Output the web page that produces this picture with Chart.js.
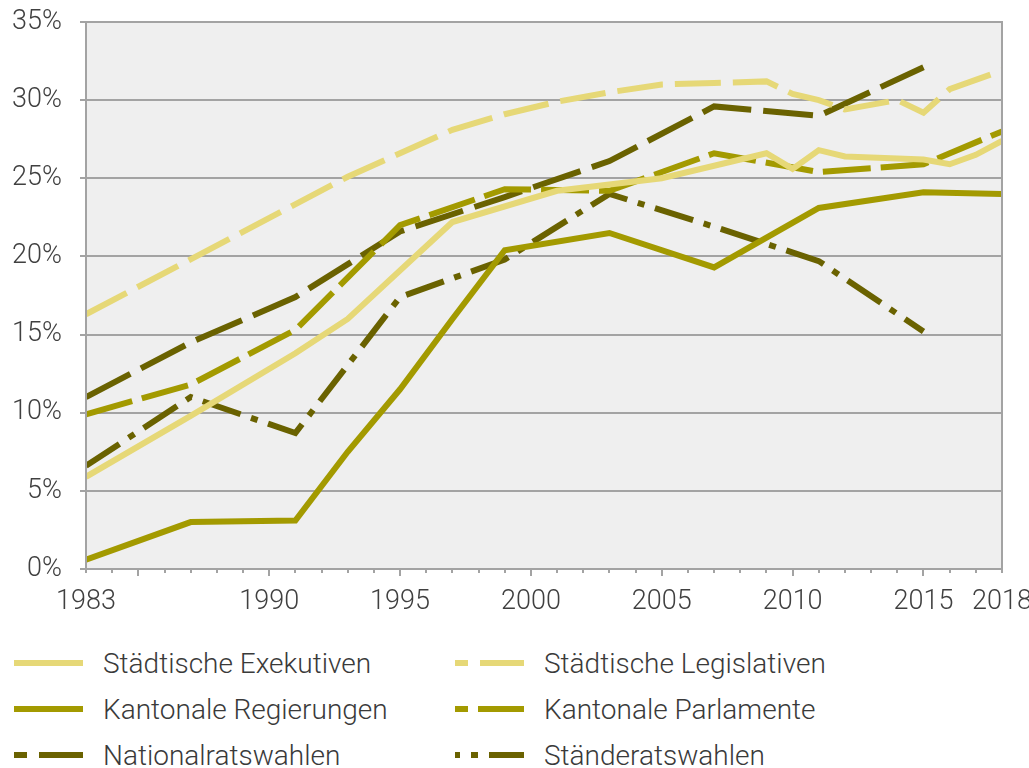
<!DOCTYPE html>
<html>
<head>
<meta charset="utf-8">
<script src="https://cdn.jsdelivr.net/npm/chart.js@4"></script>
<style>
  body { margin: 0; background: #fff; font-family: Roboto, sans-serif; font-weight: 300; }
  #wrap { position: relative; width: 1029px; height: 768px; }
  #legend { position: absolute; left: 14px; top: 640px; display: grid; grid-template-columns: 441px auto; grid-auto-rows: 46px; }
  .item { display: flex; align-items: center; font-size: 28px; color: #3a3a3a; }
  .item svg { margin-right: 20px; }
</style>
</head>
<body>
<div id="wrap">
  <canvas id="c" width="1029" height="625"></canvas>
  <div id="legend"></div>
</div>
<script>
// Werte in Prozent
const exekYears = [1983, 1987, 1991, 1993, 1997, 2001, 2005, 2009, 2010, 2011, 2012, 2015, 2016, 2017, 2018]
const exekVals = [5.9, 9.8, 13.8, 16.0, 22.2, 24.2, 25.0, 26.6, 25.6, 26.8, 26.4, 26.2, 25.9, 26.5, 27.4]

const legYears = [1983, 1993, 1995, 1997, 1999, 2001, 2003, 2005, 2007, 2009, 2010, 2011, 2012, 2014, 2015, 2016, 2018]
const legVals = [16.3, 25.1, 26.6, 28.1, 29.1, 29.9, 30.5, 31.0, 31.1, 31.2, 30.4, 30.0, 29.4, 30.0, 29.2, 30.7, 31.9]

const regYears = [1983, 1987, 1991, 1993, 1995, 1997, 1999, 2003, 2007, 2011, 2015, 2018]
const regVals = [0.6, 3.0, 3.1, 7.5, 11.5, 16.0, 20.4, 21.5, 19.3, 23.1, 24.1, 24.0]

const parlYears = [1983, 1987, 1991, 1995, 1999, 2003, 2007, 2011, 2015, 2018]
const parlVals = [9.9, 11.8, 15.3, 22.0, 24.3, 24.2, 26.6, 25.4, 25.9, 28.0]

const natYears = [1983, 1987, 1991, 1995, 1999, 2003, 2007, 2011, 2015]
const natVals = [11.0, 14.5, 17.4, 21.6, 23.8, 26.1, 29.6, 29.0, 32.1]

const staYears = [1983, 1987, 1991, 1995, 1999, 2003, 2007, 2011, 2015]
const staVals = [6.6, 11.0, 8.7, 17.4, 19.8, 24.0, 21.9, 19.7, 15.2]

const xLabelYears = [1983, 1990, 1995, 2000, 2005, 2010, 2015, 2018]
const yTicks = [0, 5, 10, 15, 20, 25, 30, 35]

const hell = "#e6d877"
const mittel = "#a39a00"
const dunkel = "#6a6200"

function pts(years, vals) {
    return years.map((y, i) => ({x: y, y: vals[i]}))
}

// Reihenfolge wie in der Legende (zeilenweise)
const datasets = [
    {label: "Städtische Exekutiven", data: pts(exekYears, exekVals), borderColor: hell, borderWidth: 6, borderDash: []},
    {label: "Städtische Legislativen", data: pts(legYears, legVals), borderColor: hell, borderWidth: 6, borderDash: [46, 12], dashOff: 33},
    {label: "Kantonale Regierungen", data: pts(regYears, regVals), borderColor: mittel, borderWidth: 6, borderDash: []},
    {label: "Kantonale Parlamente", data: pts(parlYears, parlVals), borderColor: mittel, borderWidth: 6, borderDash: [48, 10], dashOff: 35},
    {label: "Nationalratswahlen", data: pts(natYears, natVals), borderColor: dunkel, borderWidth: 6, borderDash: [50, 12], dashOff: 37},
    {label: "Ständeratswahlen", data: pts(staYears, staVals), borderColor: dunkel, borderWidth: 6, borderDash: [40, 11, 7, 11], dashOff: 35}
]
datasets.forEach(d => {
    d.pointRadius = 0
    d.fill = false
    d.tension = 0
    d.borderCapStyle = "butt"
    d.borderJoinStyle = "miter"
})

// grauer Hintergrund, Rahmen und Jahresstriche an der x-Achse
const plotDeko = {
    id: "plotDeko",
    beforeDraw(chart) {
        const {ctx, chartArea: a} = chart
        ctx.save()
        ctx.fillStyle = "#efefef"
        ctx.fillRect(a.left, a.top, a.right - a.left, a.bottom - a.top)
        ctx.restore()
    },
    afterDraw(chart) {
        const {ctx, chartArea: a, scales} = chart
        ctx.save()
        ctx.strokeStyle = "#a3a3a3"
        ctx.lineWidth = 2
        ctx.strokeRect(a.left, a.top, a.right - a.left, a.bottom - a.top)
        for (let j = 1983; j <= 2018; j++) {
            const x = Math.round(scales.x.getPixelForValue(j))
            const len = (j % 5 === 0) ? 7 : 4
            ctx.beginPath()
            ctx.moveTo(x, a.bottom)
            ctx.lineTo(x, a.bottom + len)
            ctx.stroke()
        }
        ctx.restore()
    }
}

const chart = new Chart(document.getElementById("c").getContext("2d"), {
    type: "line",
    data: {datasets: datasets},
    options: {
        responsive: false,
        animation: false,
        devicePixelRatio: 1,
        layout: {padding: {top: 22, right: 27, left: 0, bottom: 0}},
        plugins: {legend: {display: false}, tooltip: {enabled: false}},
        scales: {
            x: {
                type: "linear",
                min: 1983,
                max: 2018,
                afterBuildTicks: s => { s.ticks = xLabelYears.map(v => ({value: v})) },
                afterFit: s => { s.height = 56; s.paddingLeft = 0; s.paddingRight = 0 },
                grid: {display: false, drawTicks: false},
                border: {display: false},
                ticks: {
                    autoSkip: false,
                    maxRotation: 0,
                    padding: 17,
                    color: "#404040",
                    font: {family: "Roboto", weight: 300, size: 27},
                    callback: v => "" + v
                }
            },
            y: {
                min: 0,
                max: 35,
                afterBuildTicks: s => { s.ticks = yTicks.map(v => ({value: v})) },
                afterFit: s => { s.width = 86; s.paddingTop = 0; s.paddingBottom = 0 },
                grid: {color: "#a3a3a3", lineWidth: 2, tickLength: 6},
                border: {display: false},
                ticks: {
                    padding: 18,
                    color: "#404040",
                    font: {family: "Roboto", weight: 300, size: 27},
                    callback: v => v + "%"
                }
            }
        }
    },
    plugins: [plotDeko]
});

// Legende als HTML, zwei Spalten
const legend = document.getElementById("legend")
chart.data.datasets.forEach(d => {
    const item = document.createElement("div")
    item.className = "item"
    const dash = d.borderDash.length ? ' stroke-dasharray="' + d.borderDash.join(" ") + '" stroke-dashoffset="' + d.dashOff + '"' : ""
    item.innerHTML = '<svg width="69" height="10"><line x1="0" y1="5" x2="69" y2="5" stroke="' + d.borderColor +
        '" stroke-width="6"' + dash + '/></svg><span>' + d.label + '</span>'
    legend.appendChild(item)
})
</script>
</body>
</html>
